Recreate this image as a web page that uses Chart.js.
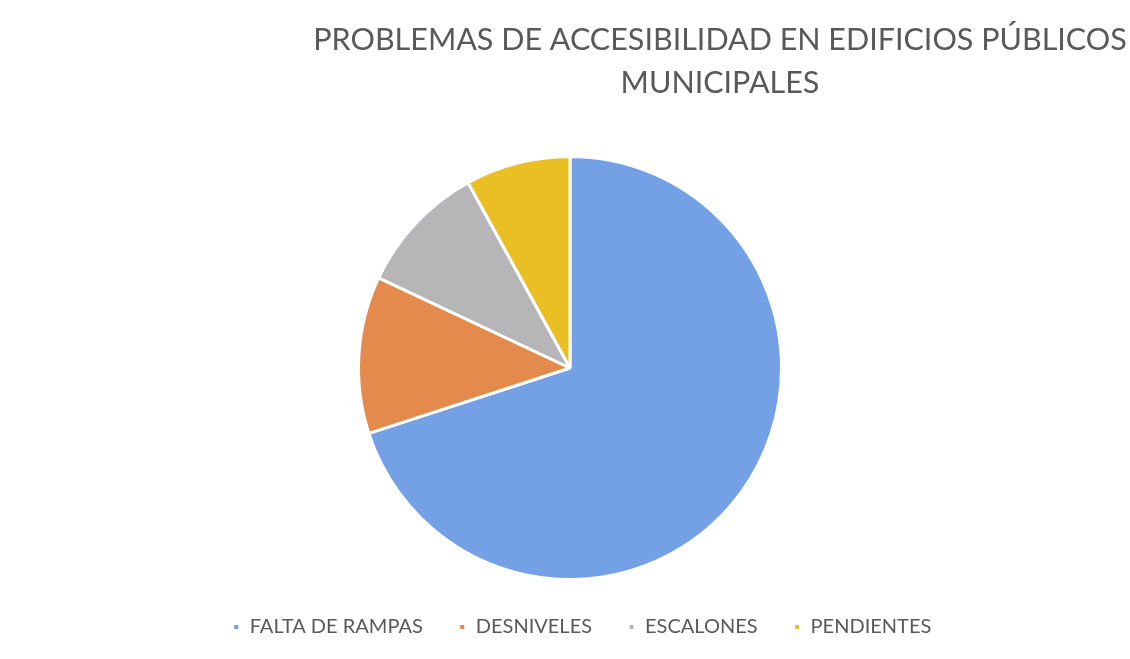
<!DOCTYPE html>
<html>
<head>
<meta charset="utf-8">
<script src="https://cdn.jsdelivr.net/npm/chart.js@4/dist/chart.umd.min.js"></script>
<style>
  html, body { margin: 0; padding: 0; background: #fff; }
  #wrap { width: 1130px; height: 659px; }
</style>
</head>
<body>
<div id="wrap"><canvas id="pieCanvas"></canvas></div>
<script>
const titleLines = ['PROBLEMAS DE ACCESIBILIDAD EN EDIFICIOS PÚBLICOS', 'MUNICIPALES'];
const categories = ['FALTA DE RAMPAS', 'DESNIVELES', 'ESCALONES', 'PENDIENTES'];
const values = [70, 12, 10, 8];
const sliceColors = ['#74a0e6', '#e38a4c', '#b6b6b9', '#e9bf24'];

// the title (and a bit the legend) sit right of the pie centre in the original
const shiftBoxes = {
  id: 'shiftBoxes',
  afterLayout(chart) {
    const t = chart.titleBlock;
    if (t) { t.left += 150; t.right += 150; }
    const l = chart.legend;
    if (l) { l.left += 12; l.right += 12; }
  }
};

const pieCtx = document.getElementById('pieCanvas').getContext('2d');
const pieChart = new Chart(pieCtx, {
  type: 'pie',
  data: {
    labels: categories,
    datasets: [{
      data: values,
      backgroundColor: sliceColors,
      borderColor: '#ffffff',
      borderWidth: 3
    }]
  },
  options: {
    responsive: true,
    maintainAspectRatio: false,
    animation: false,
    layout: { padding: { top: 0, bottom: 12, left: 10, right: 0 } },
    plugins: {
      title: {
        display: true,
        text: titleLines,
        color: '#595959',
        font: { family: 'Lato, "Open Sans", sans-serif', size: 30.5, weight: 'normal', lineHeight: 1.41 },
        padding: { top: 19, bottom: 50 }
      },
      legend: {
        position: 'bottom',
        labels: {
          color: '#595959',
          font: { family: 'Lato, "Open Sans", sans-serif', size: 20 },
          boxWidth: 7,
          boxHeight: 7,
          padding: 36
        }
      },
      tooltip: { enabled: false }
    }
  },
  plugins: [shiftBoxes]
});
</script>
</body>
</html>
